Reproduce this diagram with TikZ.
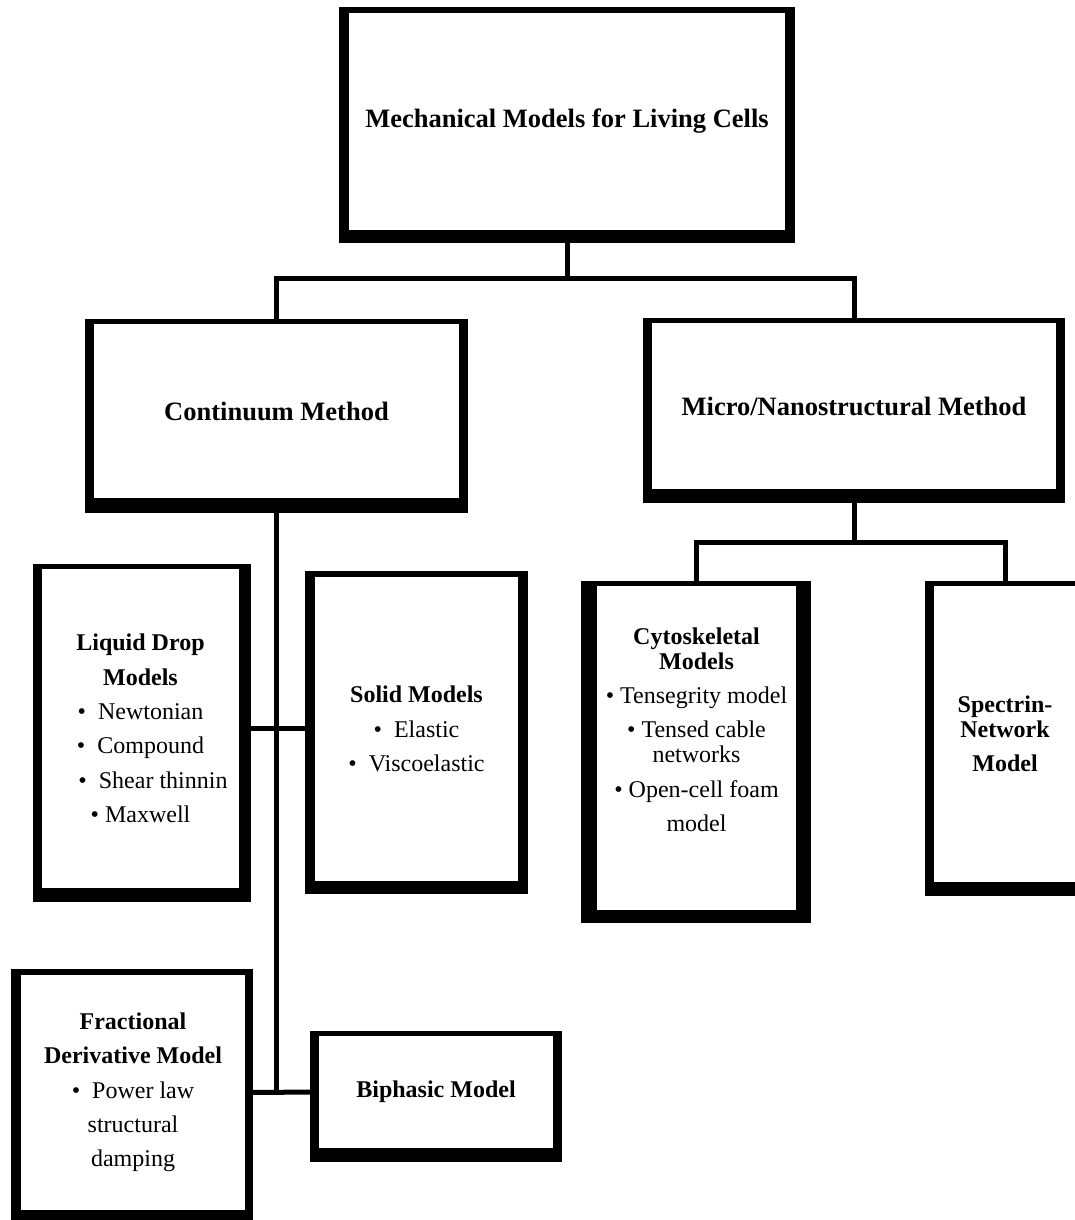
\documentclass[tikz,border=0pt]{standalone}
\usepackage{fontspec}
\setmainfont{Liberation Serif}
\usetikzlibrary{backgrounds}

\tikzset{
  cellbox/.style n args={4}{fill=white, inner sep=0pt, align=center,
    append after command={\pgfextra{\begin{pgfonlayer}{background}
        \fill[black] ([shift={(-#1,-#2)}]\tikzlastnode.north west)
          rectangle ([shift={(#3,#4)}]\tikzlastnode.south east);
      \end{pgfonlayer}}}},
  boxsize/.style 2 args={minimum width=#1pt, minimum height=#2pt},
  headtext/.style={font=\fontsize{26.5}{32}\selectfont\bfseries},
  itemtext/.style={font=\fontsize{24}{34.3}\selectfont},
  link/.style={line width=5pt, line join=miter}
}

\begin{document}
\begin{tikzpicture}[x=1pt, y=-1pt]
                \useasboundingbox (0,0) rectangle (1075,1220);
                \begin{pgfonlayer}{background}
                    \fill[white] (0,0) rectangle (1075,1220);
                \end{pgfonlayer}

                \node[cellbox={10}{6}{10}{13}, boxsize={436}{217}, headtext] (top) at (567,121.5)
                    {Mechanical Models for Living Cells};
                \node[cellbox={9}{5}{9}{15}, boxsize={365}{174}, headtext] (cont) at (276.5,411)
                    {Continuum Method};
                \node[cellbox={9}{5}{9}{14}, boxsize={404}{166}, headtext] (micro) at (854,406)
                    {Micro/Nanostructural Method};

                \node[cellbox={9}{5}{12}{14}, boxsize={197}{319}, itemtext] (liquid) at (140.5,728.5)
                    {\textbf{Liquid Drop}\\ \textbf{Models}\\
                     \textbullet\ \ Newtonian\\ \textbullet\ \ Compound\\
                     \hspace*{25pt}\textbullet\ \ Shear thinnin\\ \textbullet\ Maxwell};
                \node[cellbox={10}{6}{10}{13}, boxsize={203}{304}, itemtext] (solid) at (416.5,729)
                    {\textbf{Solid Models}\\ \textbullet\ \ Elastic\\ \textbullet\ \ Viscoelastic};
                \node[cellbox={16}{5}{15}{13}, boxsize={199}{324}] (cyto) at (696.5,748) {};
                \node[itemtext, align=center] (cyto-text) at ([yshift=18pt]cyto.center)
                    {\textbf{Cytoskeletal}\\[-10pt] \textbf{Models}\\
                     \textbullet\ Tensegrity model\\ \textbullet\ Tensed cable\\[-10pt] networks\\[1pt]
                     \textbullet\ Open-cell foam\\ model};
                \node[cellbox={9}{5}{9}{14}, boxsize={142}{296}, itemtext] (spectrin) at (1005,734)
                    {\textbf{Spectrin-}\\[-10pt] \textbf{Network}\\ \textbf{Model}};

                \node[cellbox={10}{6}{8}{12}, boxsize={224}{235}, itemtext] (frac) at (133,1092.5)
                    {\textbf{Fractional}\\ \textbf{Derivative Model}\\
                     \textbullet\ \ Power law\\ structural\\ damping};
                \node[cellbox={9}{5}{9}{14}, boxsize={234}{112}, itemtext] (biphasic) at (436,1092)
                    {\textbf{Biphasic Model}};

                \coordinate (topsplit) at (567,278);
                \coordinate (microsplit) at (854,542);
                \draw[link] (top.south) -- (topsplit);
                \draw[link] (cont.north) |- (topsplit) -| (micro.north);
                \draw[link] (micro.south) -- (microsplit);
                \draw[link] (cyto.north) |- (microsplit) -| (spectrin.north);
                \draw[link] (cont.south) -- (cont.south |- frac.east);
                \draw[link] (liquid.east) -- (liquid.east -| solid.west);
                \draw[link] (frac.east) -- (biphasic.west);
\end{tikzpicture}
\end{document}
